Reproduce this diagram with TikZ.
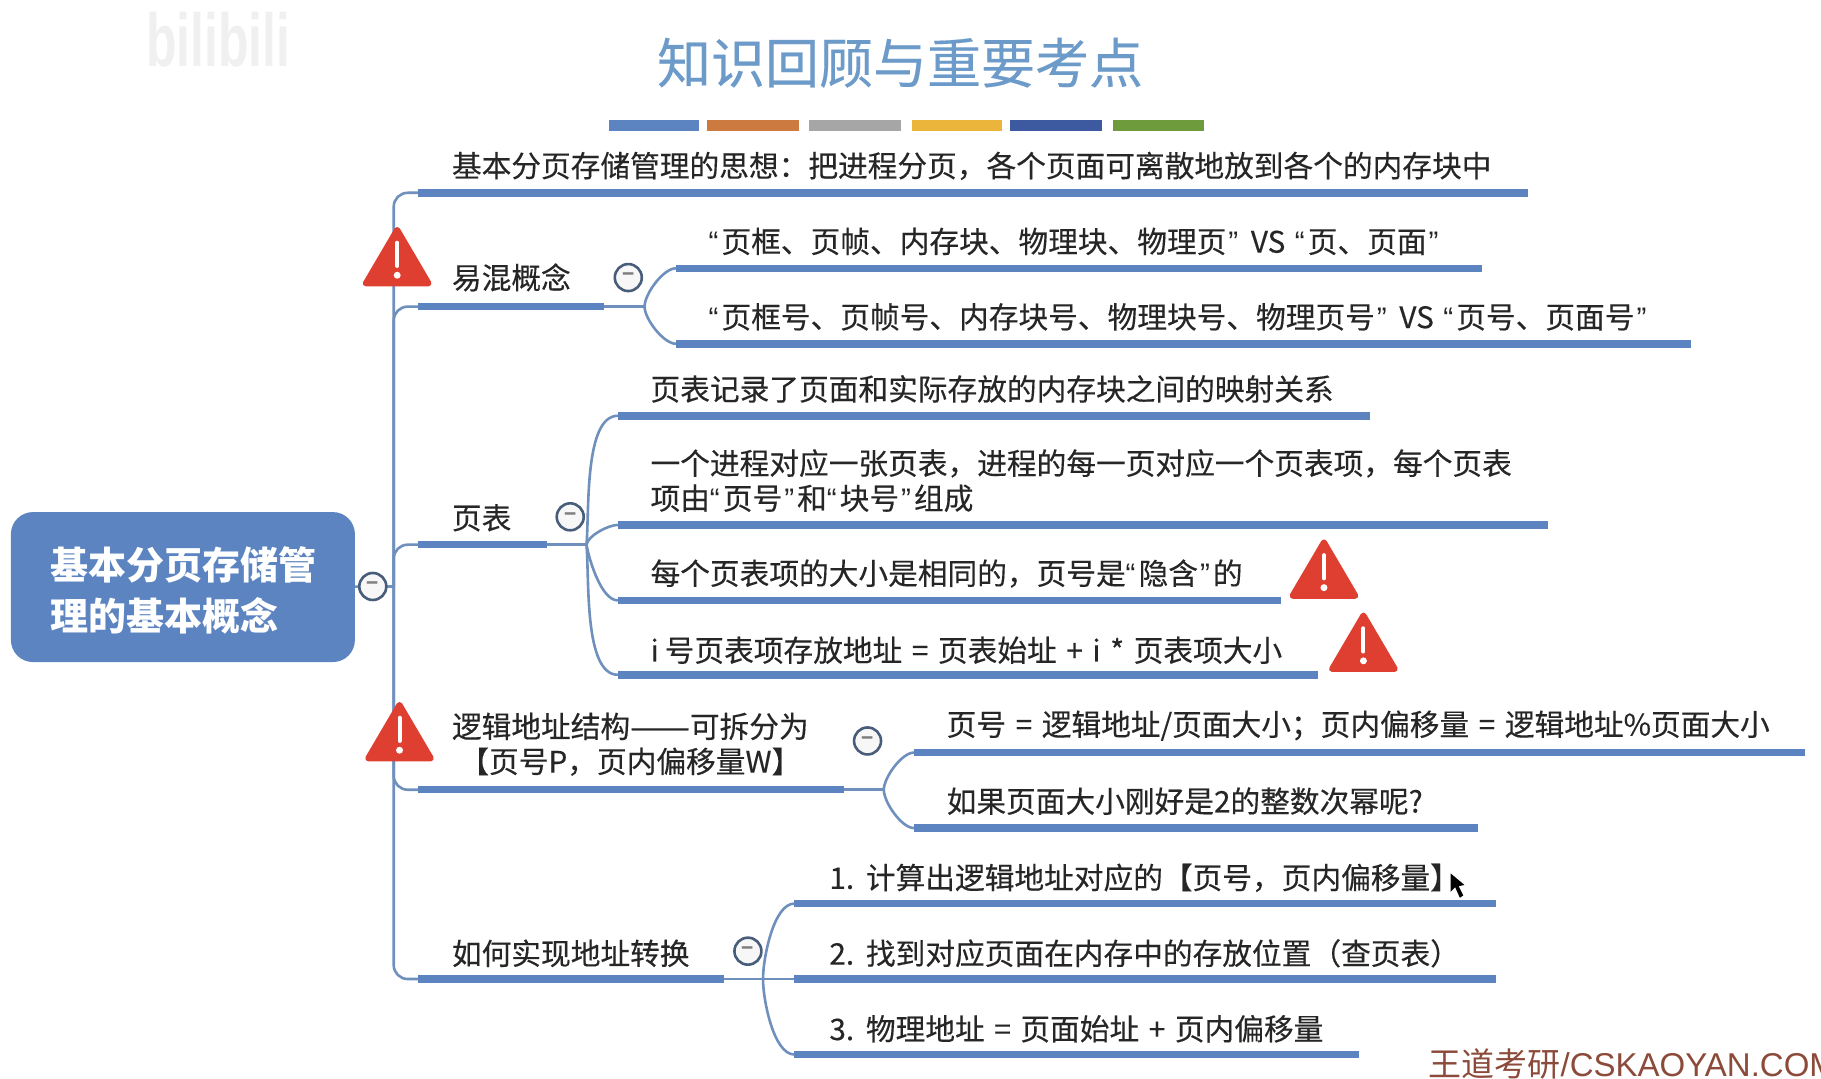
\documentclass[tikz,border=0pt]{standalone}
\usepackage{fontspec}
\setmainfont{Noto Sans CJK SC}
\newfontfamily\arialfont{Liberation Sans}
\newfontfamily\mediumfont[FakeBold=0.3]{Noto Sans CJK SC}
\newcommand{\qopen}{{\arialfont “}\kern3pt\relax}
\newcommand{\qclose}{\kern2pt{\arialfont ”}\kern3pt\relax}
\newcommand{\topicfont}{\fontsize{29.7}{35}\mediumfont\selectfont\spaceskip 9.6pt\relax}
\definecolor{barblue}{HTML}{5B84C0}
\definecolor{linkblue}{HTML}{6F8FBC}
\definecolor{titleblue}{HTML}{6C9BC9}
\definecolor{warnred}{HTML}{DE3F31}
\definecolor{stripeorange}{HTML}{CC7A3F}
\definecolor{stripegold}{HTML}{EBB53C}
\definecolor{stripenavy}{HTML}{3D5AA0}
\definecolor{stripegreen}{HTML}{6E9B3C}
\definecolor{logobrown}{HTML}{8B4A3A}
\tikzset{
    topic/.style={anchor=west, inner sep=0pt, yshift=-1pt, text=black!85, align=left, font=\topicfont},
    bar/.style={draw=barblue, line width=7.5pt},
    link/.style={draw=linkblue, line width=2.6pt},
    curve/.style={link, looseness=0.65},
    fold/.style={circle, draw=black!35!linkblue, fill=black!3, line width=2.6pt, minimum size=27pt, inner sep=0pt, text=black!50, font=\fontsize{20}{20}\selectfont\bfseries},
    warnsign/.pic={
        \fill[warnred, draw=warnred, line width=6pt, line join=round] (-27,23) -- (0,-23) -- (27,23) -- cycle;
        \draw[white, line width=4pt, line cap=round] (0,-12) -- (0,8);
        \fill[white] (0,16) circle (3);
    }
}
\begin{document}
\begin{tikzpicture}[x=1.1614pt, y=-1.1614pt]
    \useasboundingbox (0,0) rectangle (1568,929);
    % 标题
    \node[yscale=1.5, font=\fontsize{50}{60}\selectfont\bfseries\arialfont, text=black!6] (wm) at (188,34) {bilibili};
    \node[font=\fontsize{54}{60}\mediumfont\selectfont, text=titleblue] (title) at (775,54) {知识回顾与重要考点};
    \fill[barblue] (524,103) rectangle (602,113);
    \fill[stripeorange] (609,103) rectangle (688,113);
    \fill[black!35] (697,103) rectangle (776,113);
    \fill[stripegold] (785,103) rectangle (863,113);
    \fill[stripenavy] (870,103) rectangle (949,113);
    \fill[stripegreen] (958,103) rectangle (1037,113);

    % 主干
    \coordinate (sp) at (339,505);
    \draw[bar] (360,166) coordinate (a) -- (1316,166);
    \draw[bar] (360,264) coordinate (b) -- (520,264) coordinate (be);
    \draw[bar] (360,469) coordinate (c) -- (471,469) coordinate (ce);
    \draw[bar] (360,680) coordinate (d) -- (727,680) coordinate (de);
    \draw[bar] (360,843) coordinate (e) -- (623,843) coordinate (ee);
    \draw[link, rounded corners=14pt] (a) -| (sp) |- (e);
    \draw[link, rounded corners=14pt] (sp) |- (b);
    \draw[link, rounded corners=14pt] (sp) |- (c);
    \draw[link, rounded corners=14pt] (sp) |- (d);
    \node[fill=barblue, rounded corners=22pt, minimum width=344pt, minimum height=150pt, inner sep=0pt] (root) at (157.5,505.5) {};
    \node[anchor=west, inner sep=0pt, align=left, text=white, font=\fontsize{38}{51}\selectfont\bfseries] (roottext) at (43,508) {基本分页存储管\\理的基本概念};
    \draw[link] (root) -- (sp);
    \node[fold] (rootfold) at (321,505) {−};

    \node[topic] (atext) at (389,142) {基本分页存储管理的思想：把进程分页，各个页面可离散地放到各个的内存块中};

    % 易混概念
    \node[topic] (btext) at (389,238) {易混概念};
    \node[fold] (bfold) at (541,239) {−};
    \coordinate (bj) at (555,264);
    \draw[bar] (582,231) coordinate (b1) -- (1276,231);
    \draw[bar] (582,296) coordinate (b2) -- (1456,296);
    \draw[link] (be) -- (bj);
    \draw[curve] (b1) to[out=180, in=90] (bj) to[out=-90, in=180] (b2);
    \node[topic] (b1text) at (610,207) {\qopen 页框、页帧、内存块、物理块、物理页\qclose{} VS \qopen 页、页面\qclose};
    \node[topic] (b2text) at (610,272) {\qopen 页框号、页帧号、内存块号、物理块号、物理页号\qclose{} VS \qopen 页号、页面号\qclose};

    % 页表
    \node[topic] (ctext) at (389,445) {页表};
    \node[fold] (cfold) at (491,445) {−};
    \coordinate (cj) at (505,469);
    \draw[bar] (532,358) coordinate (c1) -- (1180,358);
    \draw[bar] (532,452) coordinate (c2) -- (1333,452);
    \draw[bar] (532,517) coordinate (c3) -- (1103,517);
    \draw[bar] (532,581) coordinate (c4) -- (1135,581);
    \draw[link] (ce) -- (cj);
    \draw[curve] (c1) to[out=180, in=85] (cj);
    \draw[curve] (c2) to[out=180, in=80] (cj);
    \draw[curve] (c3) to[out=180, in=-80] (cj);
    \draw[curve] (c4) to[out=180, in=-85] (cj);
    \node[topic] (c1text) at (560,334) {页表记录了页面和实际存放的内存块之间的映射关系};
    \node[topic] (c2text) at (560,413) {一个进程对应一张页表，进程的每一页对应一个页表项，每个页表\\项由\qopen 页号\qclose 和\qopen 块号\qclose 组成};
    \node[topic] (c3text) at (560,493) {每个页表项的大小是相同的，页号是\qopen 隐含\qclose 的};
    \node[topic] (c4text) at (560,559) {i\kern6pt 号页表项存放地址 = 页表始址 + i * 页表项大小};

    % 逻辑地址结构
    \node[topic, align=center] (dtext) at (389,640) {逻辑地址结构\scalebox{1.2}[1]{——}可拆分为\\【页号P，页内偏移量W】};
    \node[fold] (dfold) at (747,638) {−};
    \coordinate (dj) at (761,680);
    \draw[bar] (787,648) coordinate (d1) -- (1554,648);
    \draw[bar] (787,713) coordinate (d2) -- (1273,713);
    \draw[link] (de) -- (dj);
    \draw[curve] (d1) to[out=180, in=90] (dj) to[out=-90, in=180] (d2);
    \node[topic] (d1text) at (815,624) {页号 = 逻辑地址/页面大小；页内偏移量 = 逻辑地址\%页面大小};
    \node[topic] (d2text) at (815,689) {如果页面大小刚好是2的整数次幂呢?};

    % 地址转换
    \node[topic] (etext) at (389,820) {如何实现地址转换};
    \node[fold] (efold) at (644,819) {−};
    \coordinate (ej) at (657,843);
    \draw[bar] (684,778) coordinate (e1) -- (1288,778);
    \draw[bar] (684,843) coordinate (e2) -- (1288,843);
    \draw[bar] (684,908) coordinate (e3) -- (1170,908);
    \draw[link] (ee) -- (e2);
    \draw[curve] (e1) to[out=180, in=90] (ej) to[out=-90, in=180] (e3);
    \node[topic] (e1text) at (714,755) {1. 计算出逻辑地址对应的【页号，页内偏移量】};
    \node[topic] (e2text) at (714,820) {2. 找到对应页面在内存中的存放位置（查页表）};
    \node[topic] (e3text) at (714,885) {3. 物理地址 = 页面始址 + 页内偏移量};

    % 警告
    \pic at (342,221) {warnsign};
    \pic at (344,630) {warnsign};
    \pic at (1140,490) {warnsign};
    \pic at (1174,553) {warnsign};

    % 光标与水印
    \fill[black] (1249,752) -- (1249,768) -- (1253,764) -- (1257,773) -- (1260,771) -- (1256,763) -- (1261,762) -- cycle;
    \node[anchor=west, inner sep=0pt, text=logobrown, font=\fontsize{33}{36}\selectfont] (logo) at (1230,916) {王道考研{\arialfont/CSKAOYAN.COM}};
\end{tikzpicture}
\end{document}
